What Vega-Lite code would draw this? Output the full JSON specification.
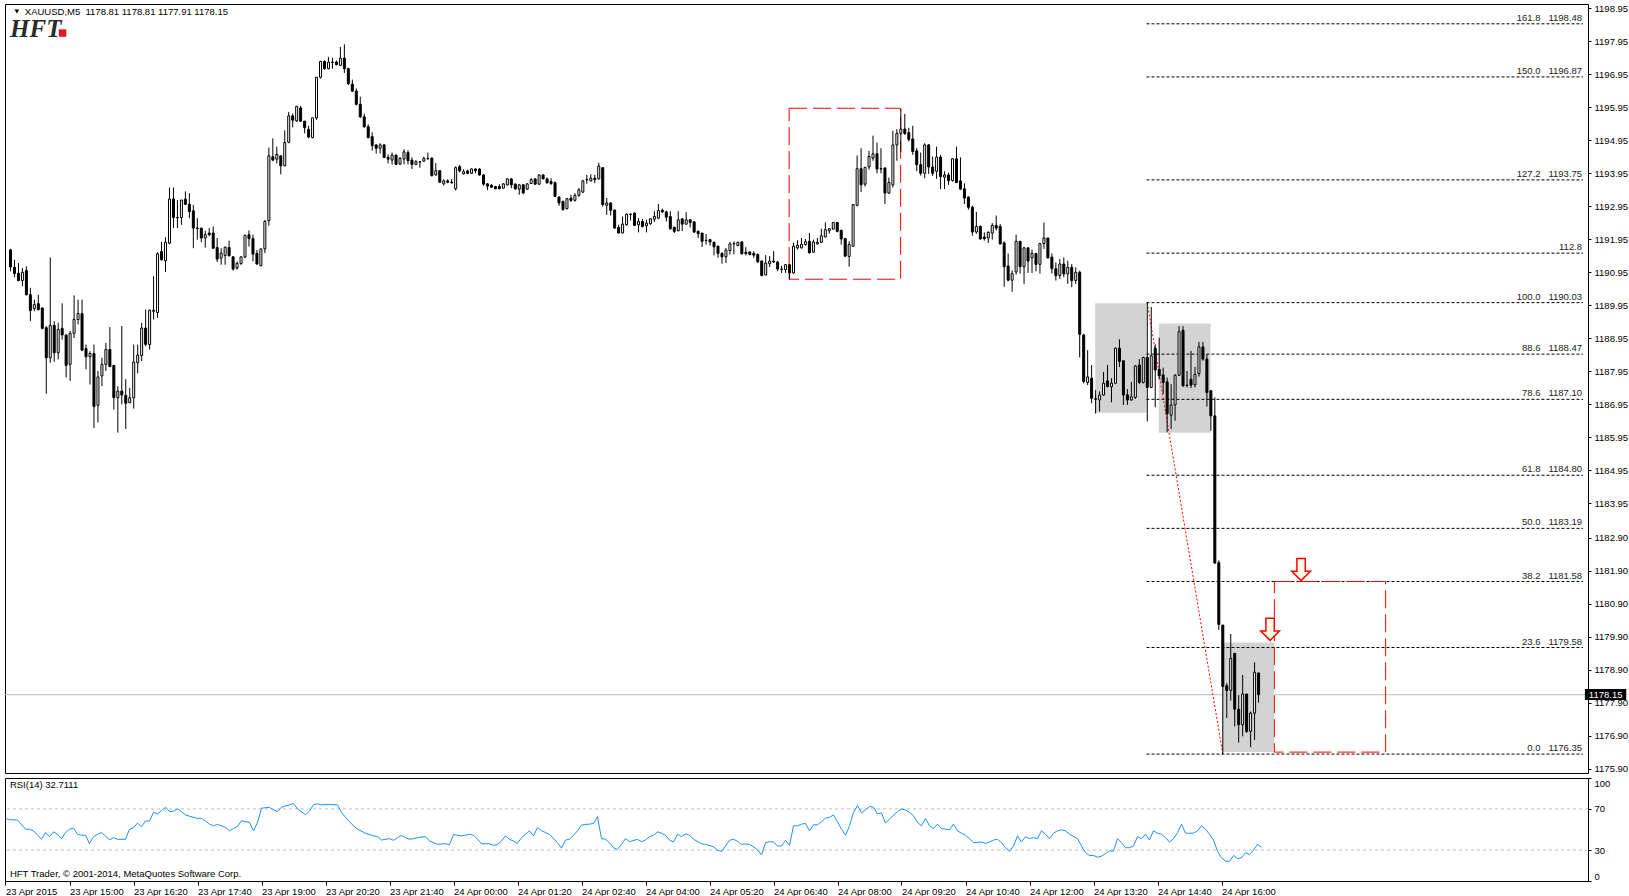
{
"$schema":"https://vega.github.io/schema/vega-lite/v6.json",
"padding":{"left":3,"top":2,"right":0,"bottom":0},
"background":"white",
"spacing":3,
"datasets":{
"candles":[
{"i":0,"o":1191.63,"h":1191.66,"l":1190.98,"c":1191.11},{"i":1,"o":1191.10,"h":1191.33,"l":1190.80,"c":1190.91},{"i":2,"o":1190.92,"h":1191.23,"l":1190.68,"c":1190.70},{"i":3,"o":1190.70,"h":1191.08,"l":1190.53,"c":1190.95},{"i":4,"o":1191.00,"h":1191.13,"l":1190.25,"c":1190.27},{"i":5,"o":1190.27,"h":1190.48,"l":1189.47,"c":1189.79},{"i":6,"o":1189.85,"h":1190.12,"l":1189.77,"c":1189.97},{"i":7,"o":1190.00,"h":1190.27,"l":1189.79,"c":1189.82},{"i":8,"o":1189.87,"h":1189.87,"l":1189.22,"c":1189.25},{"i":9,"o":1189.27,"h":1189.32,"l":1187.27,"c":1188.36},
{"i":10,"o":1188.36,"h":1191.40,"l":1188.21,"c":1189.34},{"i":11,"o":1189.34,"h":1189.47,"l":1188.24,"c":1188.51},{"i":12,"o":1188.51,"h":1189.42,"l":1188.31,"c":1189.22},{"i":13,"o":1189.25,"h":1190.01,"l":1188.91,"c":1189.05},{"i":14,"o":1189.05,"h":1189.07,"l":1187.76,"c":1188.13},{"i":15,"o":1188.16,"h":1189.17,"l":1187.66,"c":1189.10},{"i":16,"o":1189.10,"h":1190.25,"l":1188.96,"c":1189.52},{"i":17,"o":1189.52,"h":1190.12,"l":1189.37,"c":1189.70},{"i":18,"o":1189.70,"h":1190.12,"l":1188.56,"c":1188.59},{"i":19,"o":1188.64,"h":1188.76,"l":1188.01,"c":1188.39},
{"i":20,"o":1188.39,"h":1188.56,"l":1187.55,"c":1188.49},{"i":21,"o":1188.49,"h":1188.76,"l":1186.23,"c":1186.88},{"i":22,"o":1186.92,"h":1187.96,"l":1186.40,"c":1187.78},{"i":23,"o":1187.81,"h":1188.36,"l":1187.50,"c":1188.16},{"i":24,"o":1188.16,"h":1188.81,"l":1187.96,"c":1188.61},{"i":25,"o":1188.61,"h":1189.29,"l":1188.08,"c":1188.09},{"i":26,"o":1188.13,"h":1188.14,"l":1186.79,"c":1187.15},{"i":27,"o":1187.15,"h":1187.50,"l":1186.09,"c":1187.35},{"i":28,"o":1187.35,"h":1189.32,"l":1186.95,"c":1187.23},{"i":29,"o":1187.22,"h":1187.71,"l":1186.20,"c":1186.98},
{"i":30,"o":1187.00,"h":1187.45,"l":1186.98,"c":1187.15},{"i":31,"o":1187.15,"h":1188.76,"l":1186.82,"c":1188.23},{"i":32,"o":1188.21,"h":1188.76,"l":1187.89,"c":1188.44},{"i":33,"o":1188.43,"h":1189.42,"l":1188.26,"c":1189.26},{"i":34,"o":1189.26,"h":1189.82,"l":1188.71,"c":1188.76},{"i":35,"o":1188.76,"h":1189.82,"l":1188.61,"c":1189.80},{"i":36,"o":1189.80,"h":1190.83,"l":1189.52,"c":1189.77},{"i":37,"o":1189.73,"h":1191.56,"l":1189.57,"c":1191.51},{"i":38,"o":1191.58,"h":1191.87,"l":1191.30,"c":1191.33},{"i":39,"o":1191.30,"h":1192.01,"l":1190.96,"c":1191.86},
{"i":40,"o":1191.83,"h":1193.52,"l":1191.80,"c":1193.17},{"i":41,"o":1193.17,"h":1193.52,"l":1192.29,"c":1192.61},{"i":42,"o":1192.61,"h":1193.14,"l":1192.29,"c":1192.60},{"i":43,"o":1192.61,"h":1193.14,"l":1192.39,"c":1193.14},{"i":44,"o":1193.17,"h":1193.40,"l":1192.99,"c":1193.01},{"i":45,"o":1193.01,"h":1193.35,"l":1192.59,"c":1192.79},{"i":46,"o":1192.81,"h":1192.99,"l":1191.68,"c":1192.29},{"i":47,"o":1192.29,"h":1192.59,"l":1191.94,"c":1192.28},{"i":48,"o":1192.29,"h":1192.29,"l":1191.86,"c":1191.99},{"i":49,"o":1191.99,"h":1192.21,"l":1191.70,"c":1192.09},
{"i":50,"o":1192.14,"h":1192.29,"l":1192.04,"c":1192.09},{"i":51,"o":1192.14,"h":1192.34,"l":1191.66,"c":1191.68},{"i":52,"o":1191.70,"h":1191.99,"l":1191.26,"c":1191.35},{"i":53,"o":1191.38,"h":1191.68,"l":1191.18,"c":1191.53},{"i":54,"o":1191.46,"h":1191.73,"l":1191.18,"c":1191.71},{"i":55,"o":1191.70,"h":1191.91,"l":1191.43,"c":1191.45},{"i":56,"o":1191.42,"h":1191.42,"l":1191.00,"c":1191.05},{"i":57,"o":1191.08,"h":1191.28,"l":1191.03,"c":1191.22},{"i":58,"o":1191.21,"h":1191.42,"l":1191.18,"c":1191.42},{"i":59,"o":1191.41,"h":1192.09,"l":1191.38,"c":1192.07},
{"i":60,"o":1192.09,"h":1192.22,"l":1191.73,"c":1191.97},{"i":61,"o":1191.97,"h":1192.09,"l":1191.28,"c":1191.50},{"i":62,"o":1191.52,"h":1191.63,"l":1191.18,"c":1191.20},{"i":63,"o":1191.15,"h":1191.66,"l":1191.13,"c":1191.66},{"i":64,"o":1191.66,"h":1192.54,"l":1191.53,"c":1192.49},{"i":65,"o":1192.51,"h":1194.73,"l":1192.36,"c":1194.48},{"i":66,"o":1194.45,"h":1195.01,"l":1194.32,"c":1194.35},{"i":67,"o":1194.38,"h":1194.76,"l":1194.25,"c":1194.52},{"i":68,"o":1194.48,"h":1194.50,"l":1193.92,"c":1194.18},{"i":69,"o":1194.18,"h":1195.25,"l":1194.16,"c":1194.88},
{"i":70,"o":1194.89,"h":1195.81,"l":1194.86,"c":1195.69},{"i":71,"o":1195.69,"h":1195.76,"l":1195.34,"c":1195.56},{"i":72,"o":1195.54,"h":1195.99,"l":1195.51,"c":1195.98},{"i":73,"o":1195.93,"h":1195.99,"l":1195.51,"c":1195.53},{"i":74,"o":1195.53,"h":1195.53,"l":1195.16,"c":1195.33},{"i":75,"o":1195.28,"h":1195.39,"l":1195.01,"c":1195.05},{"i":76,"o":1195.03,"h":1195.63,"l":1195.01,"c":1195.63},{"i":77,"o":1195.63,"h":1196.86,"l":1195.57,"c":1196.86},{"i":78,"o":1196.86,"h":1197.36,"l":1196.82,"c":1197.34},{"i":79,"o":1197.34,"h":1197.37,"l":1197.09,"c":1197.12},
{"i":80,"o":1197.12,"h":1197.47,"l":1197.10,"c":1197.32},{"i":81,"o":1197.32,"h":1197.45,"l":1197.12,"c":1197.31},{"i":82,"o":1197.32,"h":1197.37,"l":1197.22,"c":1197.24},{"i":83,"o":1197.22,"h":1197.78,"l":1197.20,"c":1197.44},{"i":84,"o":1197.44,"h":1197.86,"l":1196.99,"c":1197.12},{"i":85,"o":1197.12,"h":1197.15,"l":1196.62,"c":1196.67},{"i":86,"o":1196.65,"h":1196.79,"l":1196.42,"c":1196.44},{"i":87,"o":1196.44,"h":1196.52,"l":1196.01,"c":1196.04},{"i":88,"o":1196.04,"h":1196.27,"l":1195.63,"c":1195.66},{"i":89,"o":1195.66,"h":1195.76,"l":1195.33,"c":1195.36},
{"i":90,"o":1195.36,"h":1195.43,"l":1195.01,"c":1195.03},{"i":91,"o":1195.06,"h":1195.19,"l":1194.64,"c":1194.79},{"i":92,"o":1194.81,"h":1194.83,"l":1194.55,"c":1194.71},{"i":93,"o":1194.71,"h":1194.86,"l":1194.55,"c":1194.81},{"i":94,"o":1194.81,"h":1194.83,"l":1194.42,"c":1194.43},{"i":95,"o":1194.43,"h":1194.52,"l":1194.25,"c":1194.38},{"i":96,"o":1194.35,"h":1194.58,"l":1194.22,"c":1194.50},{"i":97,"o":1194.50,"h":1194.52,"l":1194.20,"c":1194.22},{"i":98,"o":1194.23,"h":1194.44,"l":1194.20,"c":1194.40},{"i":99,"o":1194.38,"h":1194.68,"l":1194.22,"c":1194.60},
{"i":100,"o":1194.58,"h":1194.65,"l":1194.22,"c":1194.33},{"i":101,"o":1194.35,"h":1194.43,"l":1194.08,"c":1194.22},{"i":102,"o":1194.22,"h":1194.35,"l":1194.20,"c":1194.30},{"i":103,"o":1194.30,"h":1194.32,"l":1194.12,"c":1194.29},{"i":104,"o":1194.32,"h":1194.45,"l":1194.30,"c":1194.40},{"i":105,"o":1194.40,"h":1194.58,"l":1194.35,"c":1194.40},{"i":106,"o":1194.41,"h":1194.43,"l":1193.85,"c":1193.88},{"i":107,"o":1193.90,"h":1194.26,"l":1193.88,"c":1194.03},{"i":108,"o":1194.03,"h":1194.03,"l":1193.66,"c":1193.68},{"i":109,"o":1193.63,"h":1193.77,"l":1193.58,"c":1193.72},
{"i":110,"o":1193.72,"h":1193.77,"l":1193.65,"c":1193.68},{"i":111,"o":1193.68,"h":1193.78,"l":1193.64,"c":1193.66},{"i":112,"o":1193.48,"h":1194.16,"l":1193.43,"c":1194.12},{"i":113,"o":1194.15,"h":1194.20,"l":1193.98,"c":1194.02},{"i":114,"o":1193.93,"h":1194.07,"l":1193.91,"c":1194.00},{"i":115,"o":1194.02,"h":1194.06,"l":1193.92,"c":1193.95},{"i":116,"o":1193.95,"h":1194.10,"l":1193.93,"c":1194.08},{"i":117,"o":1194.08,"h":1194.10,"l":1193.95,"c":1194.03},{"i":118,"o":1194.08,"h":1194.10,"l":1193.88,"c":1193.90},{"i":119,"o":1193.90,"h":1193.92,"l":1193.57,"c":1193.62},
{"i":120,"o":1193.63,"h":1193.65,"l":1193.44,"c":1193.56},{"i":121,"o":1193.59,"h":1193.62,"l":1193.51,"c":1193.53},{"i":122,"o":1193.55,"h":1193.57,"l":1193.47,"c":1193.48},{"i":123,"o":1193.55,"h":1193.62,"l":1193.47,"c":1193.48},{"i":124,"o":1193.50,"h":1193.65,"l":1193.49,"c":1193.63},{"i":125,"o":1193.60,"h":1193.80,"l":1193.58,"c":1193.78},{"i":126,"o":1193.78,"h":1193.80,"l":1193.50,"c":1193.60},{"i":127,"o":1193.62,"h":1193.65,"l":1193.45,"c":1193.48},{"i":128,"o":1193.47,"h":1193.62,"l":1193.30,"c":1193.60},{"i":129,"o":1193.60,"h":1193.62,"l":1193.33,"c":1193.35},
{"i":130,"o":1193.47,"h":1193.65,"l":1193.45,"c":1193.63},{"i":131,"o":1193.64,"h":1193.80,"l":1193.63,"c":1193.76},{"i":132,"o":1193.78,"h":1193.80,"l":1193.60,"c":1193.62},{"i":133,"o":1193.62,"h":1193.92,"l":1193.60,"c":1193.90},{"i":134,"o":1193.90,"h":1193.92,"l":1193.77,"c":1193.78},{"i":135,"o":1193.78,"h":1193.82,"l":1193.64,"c":1193.66},{"i":136,"o":1193.70,"h":1193.80,"l":1193.60,"c":1193.64},{"i":137,"o":1193.67,"h":1193.70,"l":1193.23,"c":1193.25},{"i":138,"o":1193.23,"h":1193.25,"l":1192.96,"c":1193.05},{"i":139,"o":1193.10,"h":1193.12,"l":1192.82,"c":1192.85},
{"i":140,"o":1192.88,"h":1193.20,"l":1192.85,"c":1193.18},{"i":141,"o":1193.20,"h":1193.30,"l":1193.08,"c":1193.13},{"i":142,"o":1193.13,"h":1193.35,"l":1193.09,"c":1193.28},{"i":143,"o":1193.28,"h":1193.50,"l":1193.24,"c":1193.45},{"i":144,"o":1193.38,"h":1193.75,"l":1193.35,"c":1193.72},{"i":145,"o":1193.75,"h":1193.90,"l":1193.63,"c":1193.76},{"i":146,"o":1193.72,"h":1193.92,"l":1193.70,"c":1193.80},{"i":147,"o":1193.80,"h":1193.90,"l":1193.65,"c":1193.76},{"i":148,"o":1193.78,"h":1194.27,"l":1193.76,"c":1194.17},{"i":149,"o":1194.12,"h":1194.12,"l":1192.94,"c":1193.00},
{"i":150,"o":1192.98,"h":1193.20,"l":1192.69,"c":1193.05},{"i":151,"o":1193.05,"h":1193.08,"l":1192.67,"c":1192.83},{"i":152,"o":1192.83,"h":1192.86,"l":1192.27,"c":1192.29},{"i":153,"o":1192.31,"h":1192.39,"l":1192.13,"c":1192.14},{"i":154,"o":1192.14,"h":1192.64,"l":1192.13,"c":1192.41},{"i":155,"o":1192.39,"h":1192.73,"l":1192.37,"c":1192.71},{"i":156,"o":1192.71,"h":1192.74,"l":1192.52,"c":1192.70},{"i":157,"o":1192.74,"h":1192.77,"l":1192.36,"c":1192.37},{"i":158,"o":1192.39,"h":1192.59,"l":1192.16,"c":1192.49},{"i":159,"o":1192.49,"h":1192.57,"l":1192.31,"c":1192.34},
{"i":160,"o":1192.36,"h":1192.54,"l":1192.16,"c":1192.44},{"i":161,"o":1192.42,"h":1192.59,"l":1192.39,"c":1192.57},{"i":162,"o":1192.56,"h":1192.80,"l":1192.47,"c":1192.64},{"i":163,"o":1192.59,"h":1193.02,"l":1192.56,"c":1192.82},{"i":164,"o":1192.83,"h":1192.88,"l":1192.75,"c":1192.78},{"i":165,"o":1192.78,"h":1192.82,"l":1192.49,"c":1192.62},{"i":166,"o":1192.64,"h":1192.80,"l":1192.24,"c":1192.27},{"i":167,"o":1192.31,"h":1192.34,"l":1192.14,"c":1192.19},{"i":168,"o":1192.21,"h":1192.80,"l":1192.19,"c":1192.54},{"i":169,"o":1192.57,"h":1192.59,"l":1192.20,"c":1192.41},
{"i":170,"o":1192.41,"h":1192.77,"l":1192.39,"c":1192.54},{"i":171,"o":1192.54,"h":1192.56,"l":1192.31,"c":1192.46},{"i":172,"o":1192.48,"h":1192.48,"l":1192.14,"c":1192.17},{"i":173,"o":1192.19,"h":1192.22,"l":1191.99,"c":1192.12},{"i":174,"o":1192.14,"h":1192.14,"l":1191.72,"c":1191.89},{"i":175,"o":1191.92,"h":1192.11,"l":1191.79,"c":1191.91},{"i":176,"o":1191.94,"h":1191.96,"l":1191.76,"c":1191.87},{"i":177,"o":1191.86,"h":1191.88,"l":1191.46,"c":1191.72},{"i":178,"o":1191.74,"h":1191.76,"l":1191.39,"c":1191.52},{"i":179,"o":1191.52,"h":1191.56,"l":1191.21,"c":1191.42},
{"i":180,"o":1191.42,"h":1191.69,"l":1191.23,"c":1191.62},{"i":181,"o":1191.61,"h":1191.87,"l":1191.49,"c":1191.81},{"i":182,"o":1191.81,"h":1191.89,"l":1191.49,"c":1191.82},{"i":183,"o":1191.76,"h":1191.87,"l":1191.74,"c":1191.86},{"i":184,"o":1191.87,"h":1191.89,"l":1191.49,"c":1191.51},{"i":185,"o":1191.56,"h":1191.71,"l":1191.46,"c":1191.52},{"i":186,"o":1191.56,"h":1191.59,"l":1191.46,"c":1191.49},{"i":187,"o":1191.52,"h":1191.59,"l":1191.39,"c":1191.47},{"i":188,"o":1191.49,"h":1191.52,"l":1191.23,"c":1191.27},{"i":189,"o":1191.29,"h":1191.31,"l":1190.83,"c":1190.85},
{"i":190,"o":1190.87,"h":1191.47,"l":1190.86,"c":1191.23},{"i":191,"o":1191.21,"h":1191.44,"l":1191.11,"c":1191.29},{"i":192,"o":1191.29,"h":1191.59,"l":1191.23,"c":1191.26},{"i":193,"o":1191.26,"h":1191.29,"l":1190.98,"c":1191.05},{"i":194,"o":1191.05,"h":1191.15,"l":1190.93,"c":1191.04},{"i":195,"o":1191.03,"h":1191.20,"l":1190.93,"c":1191.18},{"i":196,"o":1191.18,"h":1191.18,"l":1190.73,"c":1190.93},{"i":197,"o":1190.93,"h":1191.84,"l":1190.91,"c":1191.74},{"i":198,"o":1191.69,"h":1191.92,"l":1191.64,"c":1191.77},{"i":199,"o":1191.69,"h":1191.99,"l":1191.67,"c":1191.80},
{"i":200,"o":1191.79,"h":1191.96,"l":1191.76,"c":1191.88},{"i":201,"o":1191.89,"h":1192.14,"l":1191.52,"c":1191.54},{"i":202,"o":1191.56,"h":1191.94,"l":1191.54,"c":1191.87},{"i":203,"o":1191.81,"h":1191.99,"l":1191.79,"c":1191.86},{"i":204,"o":1191.86,"h":1192.27,"l":1191.84,"c":1192.06},{"i":205,"o":1192.02,"h":1192.46,"l":1192.01,"c":1192.24},{"i":206,"o":1192.21,"h":1192.29,"l":1192.12,"c":1192.27},{"i":207,"o":1192.26,"h":1192.47,"l":1192.24,"c":1192.46},{"i":208,"o":1192.46,"h":1192.47,"l":1192.16,"c":1192.19},{"i":209,"o":1192.22,"h":1192.24,"l":1191.79,"c":1191.96},
{"i":210,"o":1191.97,"h":1191.99,"l":1191.41,"c":1191.44},{"i":211,"o":1191.43,"h":1191.89,"l":1191.12,"c":1191.79},{"i":212,"o":1191.74,"h":1193.02,"l":1191.72,"c":1193.00},{"i":213,"o":1192.98,"h":1194.49,"l":1192.95,"c":1194.09},{"i":214,"o":1194.09,"h":1194.71,"l":1193.38,"c":1193.60},{"i":215,"o":1193.62,"h":1194.14,"l":1193.55,"c":1194.13},{"i":216,"o":1194.14,"h":1194.63,"l":1194.06,"c":1194.46},{"i":217,"o":1194.41,"h":1195.09,"l":1194.33,"c":1194.54},{"i":218,"o":1194.54,"h":1194.88,"l":1193.95,"c":1194.08},{"i":219,"o":1194.09,"h":1194.71,"l":1193.95,"c":1194.08},
{"i":220,"o":1194.11,"h":1194.13,"l":1193.02,"c":1193.35},{"i":221,"o":1193.35,"h":1193.82,"l":1193.33,"c":1193.67},{"i":222,"o":1193.60,"h":1195.24,"l":1193.52,"c":1194.81},{"i":223,"o":1194.81,"h":1195.29,"l":1194.33,"c":1195.16},{"i":224,"o":1195.16,"h":1195.90,"l":1194.59,"c":1195.29},{"i":225,"o":1195.29,"h":1195.75,"l":1195.11,"c":1195.16},{"i":226,"o":1195.18,"h":1195.33,"l":1194.91,"c":1194.98},{"i":227,"o":1194.99,"h":1195.39,"l":1194.51,"c":1194.61},{"i":228,"o":1194.63,"h":1194.71,"l":1194.01,"c":1194.21},{"i":229,"o":1194.21,"h":1194.58,"l":1193.88,"c":1193.95},
{"i":230,"o":1193.95,"h":1194.86,"l":1193.80,"c":1194.81},{"i":231,"o":1194.81,"h":1194.84,"l":1193.93,"c":1194.14},{"i":232,"o":1194.14,"h":1194.46,"l":1193.87,"c":1193.95},{"i":233,"o":1194.01,"h":1194.76,"l":1193.78,"c":1194.44},{"i":234,"o":1194.44,"h":1194.51,"l":1193.47,"c":1193.85},{"i":235,"o":1193.83,"h":1194.01,"l":1193.47,"c":1193.90},{"i":236,"o":1193.90,"h":1193.97,"l":1193.60,"c":1193.73},{"i":237,"o":1193.73,"h":1194.41,"l":1193.70,"c":1194.39},{"i":238,"o":1194.39,"h":1194.76,"l":1193.65,"c":1193.67},{"i":239,"o":1193.72,"h":1194.43,"l":1193.44,"c":1193.47},
{"i":240,"o":1193.48,"h":1193.65,"l":1193.02,"c":1193.20},{"i":241,"o":1193.23,"h":1193.25,"l":1192.85,"c":1192.92},{"i":242,"o":1192.92,"h":1192.97,"l":1192.06,"c":1192.17},{"i":243,"o":1192.17,"h":1192.78,"l":1192.12,"c":1192.34},{"i":244,"o":1192.34,"h":1192.37,"l":1191.94,"c":1191.96},{"i":245,"o":1192.02,"h":1192.16,"l":1191.91,"c":1191.97},{"i":246,"o":1191.99,"h":1192.19,"l":1191.84,"c":1192.16},{"i":247,"o":1192.14,"h":1192.44,"l":1191.94,"c":1192.37},{"i":248,"o":1192.37,"h":1192.67,"l":1192.22,"c":1192.29},{"i":249,"o":1192.34,"h":1192.41,"l":1191.79,"c":1191.81},
{"i":250,"o":1191.84,"h":1191.89,"l":1190.51,"c":1191.12},{"i":251,"o":1191.14,"h":1191.52,"l":1190.68,"c":1190.71},{"i":252,"o":1190.71,"h":1191.01,"l":1190.36,"c":1190.91},{"i":253,"o":1190.96,"h":1192.09,"l":1190.88,"c":1191.89},{"i":254,"o":1191.89,"h":1191.89,"l":1190.91,"c":1191.12},{"i":255,"o":1191.12,"h":1191.72,"l":1190.60,"c":1191.69},{"i":256,"o":1191.69,"h":1191.69,"l":1190.93,"c":1191.29},{"i":257,"o":1191.39,"h":1191.64,"l":1190.93,"c":1191.52},{"i":258,"o":1191.52,"h":1191.54,"l":1190.98,"c":1191.19},{"i":259,"o":1191.19,"h":1191.84,"l":1190.91,"c":1191.82},
{"i":260,"o":1191.82,"h":1192.46,"l":1191.66,"c":1191.99},{"i":261,"o":1191.99,"h":1191.99,"l":1191.36,"c":1191.39},{"i":262,"o":1191.41,"h":1191.52,"l":1190.91,"c":1191.06},{"i":263,"o":1191.06,"h":1191.25,"l":1190.70,"c":1190.85},{"i":264,"o":1190.85,"h":1191.35,"l":1190.75,"c":1191.20},{"i":265,"o":1191.20,"h":1191.40,"l":1190.80,"c":1190.90},{"i":266,"o":1190.90,"h":1191.30,"l":1190.60,"c":1191.10},{"i":267,"o":1191.10,"h":1191.20,"l":1190.50,"c":1190.70},{"i":268,"o":1190.70,"h":1191.10,"l":1190.60,"c":1190.95},{"i":269,"o":1190.95,"h":1191.00,"l":1188.37,"c":1189.07},
{"i":270,"o":1189.05,"h":1189.09,"l":1187.58,"c":1187.64},{"i":271,"o":1187.61,"h":1188.59,"l":1187.53,"c":1187.78},{"i":272,"o":1187.74,"h":1188.14,"l":1186.98,"c":1187.13},{"i":273,"o":1187.12,"h":1187.38,"l":1186.67,"c":1187.10},{"i":274,"o":1187.08,"h":1187.34,"l":1186.73,"c":1187.23},{"i":275,"o":1187.23,"h":1187.93,"l":1187.21,"c":1187.59},{"i":276,"o":1187.66,"h":1188.14,"l":1187.46,"c":1187.49},{"i":277,"o":1187.48,"h":1187.74,"l":1187.01,"c":1187.59},{"i":278,"o":1187.59,"h":1188.67,"l":1187.56,"c":1188.65},{"i":279,"o":1188.65,"h":1188.92,"l":1188.08,"c":1188.25},
{"i":280,"o":1188.27,"h":1188.27,"l":1186.93,"c":1187.23},{"i":281,"o":1187.24,"h":1187.41,"l":1186.93,"c":1187.08},{"i":282,"o":1187.08,"h":1187.63,"l":1187.06,"c":1187.18},{"i":283,"o":1187.16,"h":1188.14,"l":1187.11,"c":1188.11},{"i":284,"o":1188.14,"h":1188.32,"l":1187.56,"c":1187.61},{"i":285,"o":1187.61,"h":1188.39,"l":1187.58,"c":1188.37},{"i":286,"o":1188.37,"h":1190.03,"l":1186.43,"c":1187.46},{"i":287,"o":1187.46,"h":1189.90,"l":1187.44,"c":1188.42},{"i":288,"o":1188.65,"h":1188.77,"l":1186.86,"c":1187.99},{"i":289,"o":1188.01,"h":1188.97,"l":1187.71,"c":1187.81},
{"i":290,"o":1187.84,"h":1188.06,"l":1187.26,"c":1187.61},{"i":291,"o":1187.63,"h":1187.76,"l":1186.10,"c":1186.67},{"i":292,"o":1186.62,"h":1187.56,"l":1186.20,"c":1186.93},{"i":293,"o":1186.93,"h":1187.86,"l":1186.45,"c":1187.83},{"i":294,"o":1187.83,"h":1189.32,"l":1187.81,"c":1189.15},{"i":295,"o":1189.19,"h":1189.32,"l":1187.48,"c":1187.51},{"i":296,"o":1187.53,"h":1187.96,"l":1187.46,"c":1187.52},{"i":297,"o":1187.71,"h":1188.57,"l":1187.44,"c":1187.53},{"i":298,"o":1187.54,"h":1188.08,"l":1187.46,"c":1187.86},{"i":299,"o":1187.88,"h":1188.84,"l":1187.79,"c":1188.69},
{"i":300,"o":1188.69,"h":1188.84,"l":1188.27,"c":1188.32},{"i":301,"o":1188.32,"h":1188.47,"l":1186.88,"c":1187.31},{"i":302,"o":1187.36,"h":1187.38,"l":1186.15,"c":1186.60},{"i":303,"o":1186.60,"h":1187.16,"l":1182.12,"c":1182.14},{"i":304,"o":1182.15,"h":1182.22,"l":1180.11,"c":1180.28},{"i":305,"o":1180.26,"h":1180.26,"l":1176.35,"c":1178.40},{"i":306,"o":1178.42,"h":1178.50,"l":1177.44,"c":1178.28},{"i":307,"o":1178.28,"h":1179.99,"l":1177.97,"c":1179.25},{"i":308,"o":1179.40,"h":1179.42,"l":1177.19,"c":1177.71},{"i":309,"o":1177.71,"h":1178.14,"l":1176.70,"c":1177.24},
{"i":310,"o":1177.24,"h":1178.75,"l":1176.89,"c":1178.17},{"i":311,"o":1178.17,"h":1178.17,"l":1176.99,"c":1177.04},{"i":312,"o":1177.04,"h":1177.64,"l":1176.56,"c":1177.59},{"i":313,"o":1177.59,"h":1179.13,"l":1176.78,"c":1178.83},{"i":314,"o":1178.81,"h":1178.81,"l":1177.91,"c":1178.15}
],
"rsi":[
{"i":0,"v":60.8},{"i":1,"v":59.5},{"i":3,"v":59.2},{"i":5,"v":50.3},{"i":6,"v":50.3},{"i":7,"v":48.7},{"i":9,"v":40.5},{"i":10,"v":47.0},{"i":11,"v":43.1},{"i":12,"v":47.7},{"i":13,"v":45.4},{"i":14,"v":41.1},{"i":15,"v":47.0},{"i":16,"v":50.3},{"i":17,"v":51.3},{"i":18,"v":45.4},{"i":19,"v":44.4},{"i":20,"v":44.4},{"i":21,"v":36.2},{"i":22,"v":43.1},{"i":23,"v":45.4},{"i":24,"v":47.0},{"i":25,"v":43.8},{"i":26,"v":39.8},{"i":27,"v":42.1},{"i":28,"v":40.5},{"i":30,"v":40.5},{"i":31,"v":50.3},{"i":32,"v":51.6},{"i":33,"v":56.2},{"i":34,"v":52.9},{"i":35,"v":58.2},{"i":36,"v":58.2},{"i":37,"v":66.7},{"i":38,"v":65.1},{"i":39,"v":68.4},{"i":40,"v":71.6},{"i":41,"v":67.4},{"i":42,"v":67.7},{"i":43,"v":70.0},{"i":44,"v":67.4},{"i":45,"v":64.1},{"i":47,"v":61.8},{"i":48,"v":60.8},{"i":49,"v":60.8},{"i":50,"v":58.2},{"i":51,"v":55.2},{"i":52,"v":53.6},{"i":53,"v":54.9},{"i":55,"v":52.0},{"i":56,"v":48.7},{"i":57,"v":51.0},{"i":58,"v":52.9},{"i":59,"v":58.5},{"i":61,"v":56.9},{"i":62,"v":48.7},{"i":63,"v":56.9},{"i":64,"v":70.7},{"i":66,"v":71.6},{"i":67,"v":69.0},{"i":68,"v":67.4},{"i":69,"v":71.6},{"i":70,"v":73.0},{"i":71,"v":73.9},{"i":72,"v":75.2},{"i":73,"v":70.0},{"i":75,"v":64.4},{"i":76,"v":67.7},{"i":77,"v":74.3},{"i":78,"v":74.9},{"i":79,"v":73.9},{"i":81,"v":74.3},{"i":83,"v":73.9},{"i":84,"v":66.7},{"i":85,"v":61.8},{"i":86,"v":57.5},{"i":87,"v":53.6},{"i":88,"v":50.3},{"i":90,"v":46.4},{"i":92,"v":43.8},{"i":93,"v":43.1},{"i":94,"v":39.8},{"i":95,"v":40.5},{"i":96,"v":41.1},{"i":97,"v":39.5},{"i":98,"v":42.1},{"i":99,"v":44.4},{"i":100,"v":42.1},{"i":101,"v":40.5},{"i":102,"v":41.1},{"i":103,"v":42.1},{"i":105,"v":43.1},{"i":106,"v":38.8},{"i":107,"v":37.2},{"i":108,"v":35.6},{"i":110,"v":36.2},{"i":111,"v":35.2},{"i":112,"v":45.1},{"i":114,"v":43.8},{"i":115,"v":44.4},{"i":116,"v":45.4},{"i":117,"v":44.4},{"i":118,"v":40.5},{"i":119,"v":36.2},{"i":121,"v":36.2},{"i":122,"v":34.6},{"i":123,"v":35.6},{"i":124,"v":38.8},{"i":125,"v":43.8},{"i":126,"v":40.5},{"i":127,"v":38.8},{"i":128,"v":36.5},{"i":129,"v":42.1},{"i":130,"v":45.4},{"i":131,"v":48.7},{"i":132,"v":43.8},{"i":133,"v":52.0},{"i":134,"v":48.7},{"i":135,"v":47.0},{"i":136,"v":45.4},{"i":138,"v":37.2},{"i":139,"v":31.9},{"i":140,"v":39.8},{"i":141,"v":40.5},{"i":142,"v":44.4},{"i":143,"v":48.7},{"i":144,"v":54.3},{"i":145,"v":54.9},{"i":146,"v":55.2},{"i":147,"v":55.9},{"i":148,"v":62.5},{"i":149,"v":41.1},{"i":150,"v":40.5},{"i":151,"v":37.2},{"i":152,"v":32.3},{"i":153,"v":30.6},{"i":154,"v":35.6},{"i":155,"v":41.1},{"i":156,"v":38.2},{"i":158,"v":40.5},{"i":159,"v":38.2},{"i":160,"v":39.8},{"i":161,"v":43.1},
{"i":162,"v":44.4},{"i":163,"v":47.7},{"i":164,"v":46.4},{"i":165,"v":44.4},{"i":166,"v":39.8},{"i":167,"v":37.8},{"i":168,"v":45.4},{"i":169,"v":43.1},{"i":170,"v":45.7},{"i":171,"v":44.4},{"i":172,"v":40.5},{"i":174,"v":36.2},{"i":175,"v":35.6},{"i":177,"v":33.3},{"i":178,"v":30.0},{"i":179,"v":28.7},{"i":180,"v":34.0},{"i":181,"v":39.5},{"i":182,"v":40.5},{"i":183,"v":38.5},{"i":184,"v":35.6},{"i":185,"v":35.9},{"i":186,"v":35.6},{"i":187,"v":33.3},{"i":188,"v":30.0},{"i":189,"v":25.4},{"i":190,"v":37.2},{"i":191,"v":38.2},{"i":192,"v":37.8},{"i":193,"v":34.0},{"i":194,"v":34.0},{"i":195,"v":39.5},{"i":196,"v":34.6},{"i":197,"v":53.6},{"i":198,"v":53.6},{"i":199,"v":55.2},{"i":200,"v":55.9},{"i":201,"v":48.7},{"i":202,"v":54.6},{"i":203,"v":54.6},{"i":204,"v":57.5},{"i":205,"v":61.1},{"i":206,"v":61.8},{"i":207,"v":64.1},{"i":208,"v":57.5},{"i":209,"v":50.3},{"i":210,"v":44.4},{"i":211,"v":53.6},{"i":212,"v":66.7},{"i":213,"v":73.3},{"i":214,"v":66.1},{"i":215,"v":69.3},{"i":216,"v":72.3},{"i":217,"v":71.6},{"i":218,"v":65.1},{"i":219,"v":66.1},{"i":220,"v":56.2},{"i":221,"v":60.2},{"i":223,"v":67.4},{"i":224,"v":70.0},{"i":225,"v":69.0},{"i":226,"v":66.7},{"i":227,"v":63.4},{"i":228,"v":56.9},{"i":229,"v":53.6},{"i":230,"v":60.8},{"i":231,"v":53.6},{"i":232,"v":51.0},{"i":233,"v":55.2},{"i":234,"v":51.0},{"i":235,"v":50.3},{"i":236,"v":49.7},{"i":237,"v":55.2},{"i":238,"v":48.7},{"i":239,"v":46.4},{"i":240,"v":44.4},{"i":241,"v":41.1},{"i":242,"v":37.2},{"i":244,"v":37.8},{"i":245,"v":36.5},{"i":246,"v":37.8},{"i":247,"v":39.8},{"i":248,"v":40.5},{"i":249,"v":37.2},{"i":250,"v":32.3},{"i":251,"v":29.0},{"i":252,"v":34.0},{"i":253,"v":43.8},{"i":254,"v":37.8},{"i":255,"v":43.1},{"i":256,"v":41.1},{"i":257,"v":42.1},{"i":258,"v":41.1},{"i":259,"v":48.7},{"i":260,"v":45.4},{"i":261,"v":41.1},{"i":262,"v":46.4},{"i":263,"v":48.7},{"i":264,"v":49.7},{"i":265,"v":48.7},{"i":266,"v":45.4},{"i":268,"v":41.1},{"i":269,"v":34.0},{"i":270,"v":27.4},{"i":271,"v":24.8},{"i":272,"v":24.8},{"i":273,"v":23.1},{"i":274,"v":24.1},{"i":275,"v":26.7},{"i":276,"v":29.0},{"i":277,"v":29.0},{"i":278,"v":41.1},{"i":279,"v":37.2},{"i":280,"v":32.3},{"i":281,"v":32.3},{"i":282,"v":34.0},{"i":283,"v":43.1},{"i":284,"v":41.1},{"i":285,"v":45.4},{"i":286,"v":39.8},{"i":287,"v":48.7},{"i":288,"v":46.4},{"i":289,"v":45.4},{"i":290,"v":42.1},{"i":291,"v":37.8},{"i":292,"v":41.1},{"i":293,"v":47.0},{"i":294,"v":55.2},{"i":295,"v":46.4},{"i":296,"v":46.4},{"i":297,"v":46.4},{"i":298,"v":48.7},{"i":299,"v":53.6},{"i":300,"v":50.3},{"i":301,"v":45.4},{"i":302,"v":39.8},{"i":303,"v":29.0},{"i":304,"v":22.5},{"i":305,"v":19.2},{"i":306,"v":19.2},{"i":307,"v":24.8},{"i":308,"v":21.8},{"i":309,"v":22.5},{"i":310,"v":27.4},{"i":311,"v":25.8},{"i":312,"v":30.0},{"i":313,"v":35.6},{"i":314,"v":32.7}
],
"fib":[
{"p":1198.48,"t":"161.8\u00a0\u00a0\u00a01198.48"},{"p":1196.87,"t":"150.0\u00a0\u00a0\u00a01196.87"},{"p":1193.75,"t":"127.2\u00a0\u00a0\u00a01193.75"},{"p":1191.53,"t":"112.8"},{"p":1190.03,"t":"100.0\u00a0\u00a0\u00a01190.03"},{"p":1188.47,"t":"88.6\u00a0\u00a0\u00a01188.47"},{"p":1187.10,"t":"78.6\u00a0\u00a0\u00a01187.10"},{"p":1184.80,"t":"61.8\u00a0\u00a0\u00a01184.80"},{"p":1183.19,"t":"50.0\u00a0\u00a0\u00a01183.19"},{"p":1181.58,"t":"38.2\u00a0\u00a0\u00a01181.58"},{"p":1179.58,"t":"23.6\u00a0\u00a0\u00a01179.58"},{"p":1176.35,"t":"0.0\u00a0\u00a0\u00a01176.35"}
],
"grayboxes":[
{"x1":272.9,"x2":285.8,"y1":1190.01,"y2":1186.69},{"x1":288.9,"x2":301.9,"y1":1189.40,"y2":1186.09},{"x1":304.9,"x2":317.9,"y1":1179.73,"y2":1176.41}
],
"redboxes":[
{"x1":195.9,"x2":223.95,"y1":1195.92,"y2":1190.74},{"x1":317.98,"x2":345.97,"y1":1181.58,"y2":1176.41}
]
},
"vconcat":[
{
"width":1583,"height":769,
"layer":[
{"data":{"values":[{"p":1178.15}]},
 "mark":{"type":"rule","color":"#c0c0c0","strokeWidth":1},
 "encoding":{"y":{"field":"p","type":"quantitative","scale":{"domain":[1175.777,1199.08],"nice":false,"zero":false},
   "axis":{"orient":"right","title":null,"values":[1198.95,1197.95,1196.95,1195.95,1194.95,1193.95,1192.95,1191.95,1190.95,1189.95,1188.95,1187.95,1186.95,1185.95,1184.95,1183.95,1182.9,1181.9,1180.9,1179.9,1178.9,1177.9,1176.9,1175.9],"tickCount":200,"format":".2f","tickSize":3,"labelPadding":3,"labelBaseline":"middle","labelOverlap":false,"labelBound":false}}}},
{"data":{"name":"grayboxes"},
 "mark":{"type":"rect","fill":"#d3d3d3"},
 "encoding":{"x":{"field":"x1","type":"quantitative","scale":{"domain":[-0.125,395.625],"nice":false,"zero":false},"axis":null},"x2":{"field":"x2"},"y":{"field":"y1","type":"quantitative"},"y2":{"field":"y2"}}},
{"data":{"name":"fib"},
 "mark":{"type":"rule","color":"black","strokeWidth":1,"strokeDash":[3,2]},
 "encoding":{"x":{"datum":285.8,"type":"quantitative"},"x2":{"datum":395.625},"y":{"field":"p","type":"quantitative"}}},
{"data":{"name":"fib"},
 "mark":{"type":"text","align":"right","baseline":"alphabetic","dy":-3,"font":"Liberation Sans","fontSize":9.5,"color":"#222"},
 "encoding":{"x":{"datum":395.4,"type":"quantitative"},"y":{"field":"p","type":"quantitative"},"text":{"field":"t"}}},
{"data":{"values":[{"i":286,"p":1190.03},{"i":305,"p":1176.35}]},
 "mark":{"type":"line","color":"#ff0000","strokeWidth":1,"strokeDash":[2,2]},
 "encoding":{"x":{"field":"i","type":"quantitative"},"y":{"field":"p","type":"quantitative"}}},
{"data":{"name":"redboxes"},
 "mark":{"type":"rect","fill":"white","fillOpacity":0,"stroke":"#ff0000","strokeWidth":1,"strokeDash":[18,6]},
 "encoding":{"x":{"field":"x1","type":"quantitative"},"x2":{"field":"x2"},"y":{"field":"y1","type":"quantitative"},"y2":{"field":"y2"}}},
{"data":{"name":"candles"},
 "mark":{"type":"rule","color":"black","strokeWidth":1},
 "encoding":{"x":{"field":"i","type":"quantitative"},"y":{"field":"l","type":"quantitative"},"y2":{"field":"h"}}},
{"data":{"name":"candles"},
 "mark":{"type":"bar","width":2,"stroke":"black","strokeWidth":1},
 "encoding":{"x":{"field":"i","type":"quantitative"},"y":{"field":"o","type":"quantitative"},"y2":{"field":"c"},
   "fill":{"condition":{"test":"datum.c < datum.o","value":"black"},"value":"white"}}},
{"data":{"values":[{"i":324.7,"p":1181.94},{"i":316.9,"p":1180.13}]},
 "mark":{"type":"point","shape":"M-0.38,-1L0.38,-1L0.38,0.15L0.85,0.15L0,1L-0.85,0.15L-0.38,0.15Z","size":484,"filled":true,"fill":"#fffbe6","stroke":"#ff0000","strokeWidth":1.5,"opacity":1},
 "encoding":{"x":{"field":"i","type":"quantitative"},"y":{"field":"p","type":"quantitative"}}},
{"data":{"values":[{"x1":396.1,"x2":406.5,"y1":1178.32,"y2":1177.99}]},
 "mark":{"type":"rect","fill":"black"},
 "encoding":{"x":{"field":"x1","type":"quantitative"},"x2":{"field":"x2"},"y":{"field":"y1","type":"quantitative"},"y2":{"field":"y2"}}},
{"data":{"values":[{"t":"1178.15"}]},
 "mark":{"type":"text","align":"left","baseline":"middle","font":"Liberation Sans","fontSize":9.5,"color":"white"},
 "encoding":{"x":{"datum":397.1,"type":"quantitative"},"y":{"datum":1178.15,"type":"quantitative"},"text":{"field":"t"}}},
{"data":{"values":[{"t":"XAUUSD,M5\u00a0\u00a01178.81 1178.81 1177.91 1178.15"}]},
 "mark":{"type":"text","align":"left","baseline":"middle","font":"Liberation Sans","fontSize":9.5,"color":"black"},
 "encoding":{"x":{"datum":3.6,"type":"quantitative"},"y":{"datum":1198.85,"type":"quantitative"},"text":{"field":"t"}}},
{"data":{"values":[{"s":"v"}]},
 "mark":{"type":"point","shape":"triangle-down","size":22,"filled":true,"color":"black","opacity":1},
 "encoding":{"x":{"datum":1.6,"type":"quantitative"},"y":{"datum":1198.85,"type":"quantitative"}}},
{"data":{"values":[{"t":"HFT"}]},
 "mark":{"type":"text","align":"left","baseline":"alphabetic","font":"Liberation Serif","fontSize":25,"fontWeight":"bold","fontStyle":"italic","color":"#2b2b2b"},
 "encoding":{"x":{"datum":-0.1,"type":"quantitative"},"y":{"datum":1198.08,"type":"quantitative"},"text":{"field":"t"}}},
{"data":{"values":[{"s":"sq"}]},
 "mark":{"type":"point","shape":"square","size":56,"filled":true,"color":"#e3161e","opacity":1},
 "encoding":{"x":{"datum":13.1,"type":"quantitative"},"y":{"datum":1198.2,"type":"quantitative"}}}
]
},
{
"width":1583,"height":103,
"layer":[
{"data":{"values":[{"v":70},{"v":30}]},
 "mark":{"type":"rule","color":"#c0c0c0","strokeWidth":1,"strokeDash":[3,3]},
 "encoding":{"y":{"field":"v","type":"quantitative","scale":{"domain":[0,100],"nice":false,"zero":false},
   "axis":{"orient":"right","title":null,"values":[100,70,30,0],"tickCount":200,"format":"d","tickSize":3,"labelPadding":3,"labelFlush":true,"labelFlushOffset":0,"labelOverlap":false,"labelBound":false}}}},
{"data":{"name":"rsi"},
 "mark":{"type":"line","color":"#1e90ff","strokeWidth":1},
 "encoding":{"x":{"field":"i","type":"quantitative","scale":{"domain":[-0.125,395.625],"nice":false,"zero":false},
   "axis":{"orient":"bottom","title":null,"values":[0,16,32,48,64,80,96,112,128,144,160,176,192,208,224,240,256,272,288,304],"tickCount":200,
   "labelExpr":"['23 Apr 2015','23 Apr 15:00','23 Apr 16:20','23 Apr 17:40','23 Apr 19:00','23 Apr 20:20','23 Apr 21:40','24 Apr 00:00','24 Apr 01:20','24 Apr 02:40','24 Apr 04:00','24 Apr 05:20','24 Apr 06:40','24 Apr 08:00','24 Apr 09:20','24 Apr 10:40','24 Apr 12:00','24 Apr 13:20','24 Apr 14:40','24 Apr 16:00'][round(datum.value/16)]",
   "labelAlign":"left","labelBaseline":"top","tickSize":4,"labelPadding":1,"labelOverlap":false,"labelFlush":false}},
   "y":{"field":"v","type":"quantitative"}}},
{"data":{"values":[{"t":"RSI(14) 32.7111"}]},
 "mark":{"type":"text","align":"left","baseline":"middle","font":"Liberation Sans","fontSize":9.5,"color":"black"},
 "encoding":{"x":{"datum":1.1,"type":"quantitative"},"y":{"datum":93,"type":"quantitative"},"text":{"field":"t"}}},
{"data":{"values":[{"t":"HFT Trader, © 2001-2014, MetaQuotes Software Corp."}]},
 "mark":{"type":"text","align":"left","baseline":"middle","font":"Liberation Sans","fontSize":9.5,"color":"black"},
 "encoding":{"x":{"datum":1.1,"type":"quantitative"},"y":{"datum":7.1,"type":"quantitative"},"text":{"field":"t"}}}
]
}
],
"config":{
 "view":{"stroke":"black","strokeWidth":1},
 "font":"Liberation Sans",
 "axis":{"domain":false,"grid":false,"labelFont":"Liberation Sans","labelFontSize":9.5,"labelColor":"black","tickColor":"black","tickSize":3,"labelOverlap":false}
}
}
